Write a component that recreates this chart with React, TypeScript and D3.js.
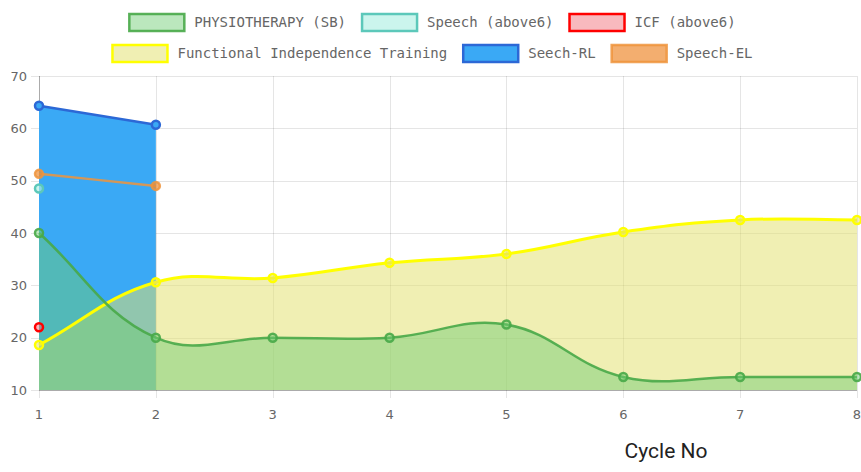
import React from 'react';
import * as d3 from 'd3';

// cycles on the x axis
const cycles = [1, 2, 3, 4, 5, 6, 7, 8];
const yTicks = [10, 20, 30, 40, 50, 60, 70];

// series values, one entry per cycle (shorter arrays stop early)
const physiotherapy = [40, 20, 20, 20, 22.5, 12.5, 12.5, 12.5];
const speechAbove6 = [48.5];
const icfAbove6 = [22];
const functionalTraining = [18.6, 30.6, 31.4, 34.3, 36, 40.2, 42.5, 42.5];
const speechRL = [64.3, 60.7];
const speechEL = [51.3, 49];

const seriesNames = [
  'PHYSIOTHERAPY (SB)',
  'Speech (above6)',
  'ICF (above6)',
  'Functional Independence Training',
  'Seech-RL',
  'Speech-EL',
];
const seriesValues = [physiotherapy, speechAbove6, icfAbove6, functionalTraining, speechRL, speechEL];
const fills = [
  'rgba(110,205,115,0.47)',
  'rgba(175,240,228,0.65)',
  'rgba(240,100,110,0.45)',
  'rgba(226,224,110,0.52)',
  'rgb(58,169,245)',
  'rgba(238,140,50,0.7)',
];
const borders = [
  'rgba(72,168,72,0.9)',
  'rgb(92,200,186)',
  'rgb(255,0,0)',
  'rgb(255,255,0)',
  'rgb(44,104,214)',
  'rgba(238,148,60,0.85)',
];

const W = 861;
const H = 472;
const left = 39;
const right = 857;
const top = 76;
const bottom = 390;

// bezier like chart.js (tension 0.4, control points capped to the plot area)
function splineCurve(minY: number, maxY: number, t = 0.4) {
  return (context: any) => {
    let pts: [number, number][] = [];
    let line = NaN;
    return {
      areaStart() { line = 0; },
      areaEnd() { line = NaN; },
      lineStart() { pts = []; },
      point(px: number, py: number) { pts.push([+px, +py]); },
      lineEnd() {
        const n = pts.length;
        if (n) {
          if (line) context.lineTo(pts[0][0], pts[0][1]);
          else context.moveTo(pts[0][0], pts[0][1]);
          const clamp = (v: number) => Math.max(minY, Math.min(maxY, v));
          const cps = pts.map((cur, i) => {
            const prev = pts[Math.max(0, i - 1)];
            const next = pts[Math.min(n - 1, i + 1)];
            const d01 = Math.hypot(cur[0] - prev[0], cur[1] - prev[1]);
            const d12 = Math.hypot(next[0] - cur[0], next[1] - cur[1]);
            let s01 = d01 / (d01 + d12);
            let s12 = d12 / (d01 + d12);
            if (!isFinite(s01)) s01 = 0;
            if (!isFinite(s12)) s12 = 0;
            const fa = t * s01;
            const fb = t * s12;
            return {
              p: [cur[0] - fa * (next[0] - prev[0]), clamp(cur[1] - fa * (next[1] - prev[1]))],
              n: [cur[0] + fb * (next[0] - prev[0]), clamp(cur[1] + fb * (next[1] - prev[1]))],
            };
          });
          for (let i = 1; i < n; i++) {
            context.bezierCurveTo(cps[i - 1].n[0], cps[i - 1].n[1], cps[i].p[0], cps[i].p[1], pts[i][0], pts[i][1]);
          }
        }
        if (line || (line !== 0 && n === 1)) context.closePath();
        line = 1 - line;
      },
    };
  };
}

export default function App() {
  const x = d3.scaleLinear().domain([1, 8]).range([left, right]);
  const y = d3.scaleLinear().domain([10, 70]).range([bottom, top]);
  const curve = splineCurve(top, bottom) as any;

  const area = d3
    .area<number>()
    .x((_, i) => x(cycles[i]))
    .y0(y(10))
    .y1((d) => y(d))
    .curve(curve);
  const line = d3
    .line<number>()
    .x((_, i) => x(cycles[i]))
    .y((d) => y(d))
    .curve(curve);

  // legend layout
  const charW = 8.43;
  const boxW = 57;
  const rows = [[0, 1, 2], [3, 4, 5]];
  const legendCenter = 432;
  const rowY = [13, 44];

  const order = [5, 4, 3, 2, 1, 0];

  return (
    <svg width={W} height={H} style={{ position: 'absolute', left: 0, top: 0, background: '#fff' }}>
      {/* legend */}
      {rows.map((row, r) => {
        const widths = row.map((i) => boxW + 9 + seriesNames[i].length * charW);
        const total = d3.sum(widths) + 15 * (row.length - 1);
        let cx = legendCenter - total / 2;
        return (
          <g key={r}>
            {row.map((i, k) => {
              const bx = cx;
              cx += widths[k] + 15;
              return (
                <g key={i}>
                  <rect x={bx + 1} y={rowY[r] + 1} width={boxW - 2} height={17} fill={fills[i]} stroke={borders[i]} strokeWidth={2.5} />
                  <text x={bx + boxW + 9} y={rowY[r] + 14} fontFamily="DejaVu Sans Mono" fontSize={14} fill="#666">
                    {seriesNames[i]}
                  </text>
                </g>
              );
            })}
          </g>
        );
      })}

      {/* grid */}
      <g stroke="rgba(0,0,0,0.1)" strokeWidth={1}>
        {yTicks.map((t) => (
          <line key={'h' + t} x1={left - 8} x2={right} y1={Math.round(y(t)) + 0.5} y2={Math.round(y(t)) + 0.5} />
        ))}
        {cycles.map((c) => (
          <line key={'v' + c} x1={Math.round(x(c)) + 0.5} x2={Math.round(x(c)) + 0.5} y1={top} y2={bottom + 8} />
        ))}
      </g>
      <line x1={left + 0.5} x2={left + 0.5} y1={top} y2={bottom} stroke="rgba(0,0,0,0.25)" />
      <line x1={left} x2={right} y1={bottom + 0.5} y2={bottom + 0.5} stroke="rgba(0,0,0,0.25)" />

      {/* tick labels */}
      <g fontFamily="DejaVu Sans" fontSize={13} fill="#666">
        {yTicks.map((t) => (
          <text key={t} x={left - 12} y={y(t)} dy="0.35em" textAnchor="end">{t}</text>
        ))}
        {cycles.map((c) => (
          <text key={c} x={x(c)} y={414} dy="0.35em" textAnchor="middle">{c}</text>
        ))}
      </g>
      <text x={666} y={451} dy="0.35em" textAnchor="middle" fontFamily="Roboto" fontSize={21} fill="#222">Cycle No</text>

      {/* fills */}
      {order.map((i) =>
        seriesValues[i].length > 1 ? <path key={'a' + i} d={area(seriesValues[i]) || ''} fill={fills[i]} /> : null
      )}

      {/* lines and points */}
      {order.map((i) => (
        <g key={'l' + i}>
          {seriesValues[i].length > 1 && (
            <path d={line(seriesValues[i]) || ''} fill="none" stroke={borders[i]} strokeWidth={i === 3 ? 3 : 2.5} />
          )}
          {seriesValues[i].map((v, k) => (
            <circle key={k} cx={x(cycles[k])} cy={y(v)} r={4} fill={fills[i]} stroke={borders[i]} strokeWidth={2.5} />
          ))}
        </g>
      ))}
    </svg>
  );
}
